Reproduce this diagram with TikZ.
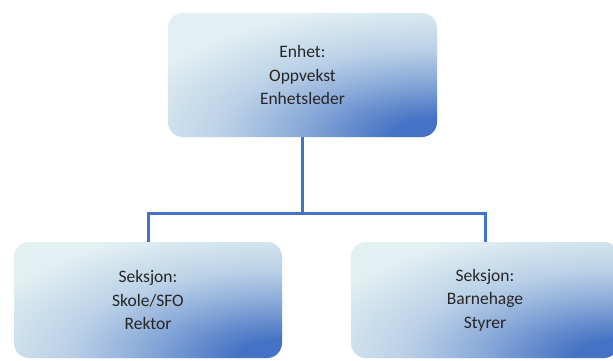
\documentclass[tikz,border=0pt]{standalone}
\usepackage{fontspec}
\setmainfont{Carlito}
\definecolor{boxblue}{HTML}{4472C4}
\definecolor{boxlight}{HTML}{E2F0F2}
\definecolor{txt}{HTML}{262626}
\pgfdeclareradialshading{cornershade}{\pgfpoint{0bp}{0bp}}{color(0bp)=(boxblue); color(3bp)=(boxblue); color(9.5bp)=(boxblue!55!boxlight); color(14.5bp)=(boxblue!25!boxlight); color(22bp)=(boxlight); color(50bp)=(boxlight)}
\tikzset{
  orgbox/.style={rounded corners=15pt, inner sep=0pt, text=txt, align=center,
    font=\fontsize{17.5}{23.5}\selectfont,
    path picture={
      \fill[boxlight] (path picture bounding box.south west) rectangle (path picture bounding box.north east);
      \shade[shading=cornershade] (path picture bounding box.south east) +(-370pt,-152pt) rectangle +(370pt,152pt);
    }},
  conn/.style={draw=boxblue, line width=3pt}
}
\begin{document}
\begin{tikzpicture}[x=1pt,y=-1pt]
\useasboundingbox (0,0) rectangle (613,360);
\node[orgbox, minimum width=269pt, minimum height=124pt] (top) at (302.5,75) {Enhet:\\Oppvekst\\Enhetsleder};
\node[orgbox, minimum width=268pt, minimum height=116pt] (left) at (148,300) {Seksjon:\\Skole/SFO\\Rektor};
\node[orgbox, minimum width=268pt, minimum height=116pt] (right) at (485,300) {Seksjon:\\Barnehage\\Styrer};
\coordinate (jn) at (302.5,213);
\draw[conn] (top.south) -- (jn) -| (left.north);
\draw[conn] (jn) -| (right.north);
\end{tikzpicture}
\end{document}
